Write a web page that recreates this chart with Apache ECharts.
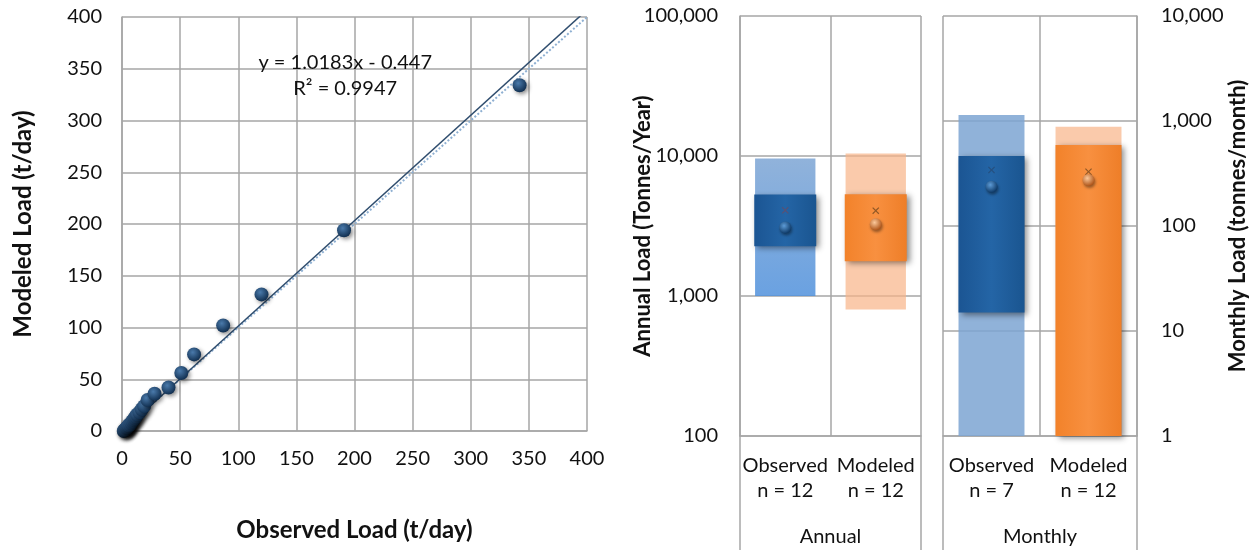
<!DOCTYPE html>
<html><head><meta charset="utf-8">
<script src="https://cdn.jsdelivr.net/npm/echarts@6/dist/echarts.min.js"></script>
<style>html,body{margin:0;padding:0;background:#fff}#c{width:1254px;height:550px}</style>
</head><body><div id="c"></div>
<script>
// ---------- data ----------
const observedDaily = [0.5,1,1.5,2,2.5,3,3.5,4,4.5,5,5.5,6,7,8,9,10,11,12,13,15,17,19,22,28,40,51,62,87,120,191,342];
const modeledDaily  = [-1,-0.5,0,0.5,1,1.5,2,3,3.5,4,5,5.5,6.5,8,9.5,11,12.5,14,16,18,21,24,30,36,42,56,74,102,132,194,334];
const trendCoef = [1.0183, -0.447];
const oneToOne = [[0,0],[400,400]];
const trendText = ['y = 1.0183x - 0.447', 'R² = 0.9947'];
const trendTextPos = [[192, 356], [192, 331]];
const scatterTicks = [0, 400, 50];

const annualCats  = ['Observed\nn = 12', 'Modeled\nn = 12'];
const monthlyCats = ['Observed\nn = 7', 'Modeled\nn = 12'];
const annualRange  = [[1000, 9600], [800, 10400]];
const annualIQR    = [[2270, 5300], [1770, 5320]];
const annualMedian = [3080, 3250];
const annualMean   = [4090, 4070];
const monthlyRange  = [[1, 1140], [1, 880]];
const monthlyIQR    = [[15, 464], [1, 590]];
const monthlyMedian = [237, 274];
const monthlyMean   = [341, 329];

// ---------- helpers ----------
const FONT = 'Lato';
const GRID = '#a6a6a6';
const TXT = '#111';
const fmt = v => Number(v).toLocaleString('en-US');

const lightBlue = new echarts.graphic.LinearGradient(0,0,0,1,[{offset:0,color:'rgba(125,165,212,0.85)'},{offset:1,color:'rgba(80,145,220,0.85)'}]);
const lightBlueM = 'rgba(125,165,210,0.85)';
const darkBlue = new echarts.graphic.LinearGradient(0,0,1,0,[{offset:0,color:'#1b5593'},{offset:0.5,color:'#2465a6'},{offset:1,color:'#1a5590'}]);
const lightOrange = 'rgba(248,180,135,0.7)';
const orange = new echarts.graphic.LinearGradient(0,0,1,0,[{offset:0,color:'#f2822a'},{offset:0.5,color:'#f89040'},{offset:1,color:'#ee7e28'}]);
const blueBall = new echarts.graphic.RadialGradient(0.4,0.35,0.65,[{offset:0,color:'#5d9bd6'},{offset:1,color:'#0e3a68'}]);
const orangeBall = new echarts.graphic.RadialGradient(0.4,0.35,0.65,[{offset:0,color:'#fbc89a'},{offset:1,color:'#b0561a'}]);
const navyBall = new echarts.graphic.RadialGradient(0.4,0.35,0.7,[{offset:0,color:'#4a7aab'},{offset:1,color:'#0d2a4a'}]);
const XMARK = 'path://M0,0L2,2L4,0L4.6,0.6L2.6,2.6L4.6,4.6L4,5.2L2,3.2L0,5.2L-0.6,4.6L1.4,2.6L-0.6,0.6Z';

function rectRender(frac, shadow){
  return function(params, api){
    const c = api.value(0);
    const lo = api.coord([c, api.value(1)]);
    const hi = api.coord([c, api.value(2)]);
    const w = api.size([1, 0])[0] * frac;
    return {
      type: 'rect',
      shape: {x: lo[0] - w/2, y: hi[1], width: w, height: lo[1] - hi[1]},
      style: Object.assign({fill: api.visual('color')}, shadow ? {shadowBlur: 6, shadowOffsetX: 3, shadowOffsetY: 2, shadowColor: 'rgba(0,0,0,0.45)'} : {})
    };
  };
}
function boxItems(ranges, colors){ return ranges.map((r,i)=>({value:[i, r[0], r[1]], itemStyle:{color: colors[i]}})); }
function ptItems(vals, colors){ return vals.map((v,i)=>({value:[i, v], itemStyle:{color: colors[i], opacity:1}})); }

const catLabel = {fontFamily: FONT, fontSize: 20, color: TXT, lineHeight: 25, margin: 17, interval: 0};
const xCat = (grid, data) => ({type:'category', gridIndex:grid, data, position:'bottom', boundaryGap:true,
  axisLine:{show:true, lineStyle:{color:GRID, width:1.5}}, axisTick:{show:false},
  splitLine:{show:true, interval:0, lineStyle:{color:GRID, width:1.5}}, axisLabel:catLabel});
const xGroup = (grid, name) => ({type:'category', gridIndex:grid, data:[name], position:'bottom', boundaryGap:true,
  axisLine:{show:false}, axisTick:{show:true, length:114, interval:0, lineStyle:{color:GRID, width:1.5}},
  splitLine:{show:false}, axisLabel:{fontFamily:FONT, fontSize:20, color:TXT, margin:91}});

const chart = echarts.init(document.getElementById('c'), null, {renderer:'canvas'});
chart.setOption({
  animation: false,
  backgroundColor: '#fff',
  grid: [
    {left:122, top:17, width:465, height:414},
    {left:740, top:16, width:181, height:420},
    {left:943, top:16, width:194, height:420}
  ],
  xAxis: [
    {type:'value', gridIndex:0, min:scatterTicks[0], max:scatterTicks[1], interval:scatterTicks[2],
     name:'Observed Load (t/day)', nameLocation:'middle', nameGap:87, nameMoveOverlap:false,
     nameTextStyle:{fontFamily:FONT, fontSize:24, fontWeight:'bold', color:TXT},
     axisLine:{show:true, lineStyle:{color:GRID, width:1.5}}, axisTick:{show:false},
     splitLine:{show:true, lineStyle:{color:GRID, width:1.5}},
     axisLabel:{fontFamily:FONT, fontSize:20, color:TXT, margin:18}},
    xCat(1, annualCats), xGroup(1, 'Annual'),
    xCat(2, monthlyCats), xGroup(2, 'Monthly')
  ],
  yAxis: [
    {type:'value', gridIndex:0, min:scatterTicks[0], max:scatterTicks[1], interval:scatterTicks[2],
     name:'Modeled Load (t/day)', nameLocation:'middle', nameGap:87, nameMoveOverlap:false,
     nameTextStyle:{fontFamily:FONT, fontSize:24, fontWeight:'bold', color:TXT},
     axisLine:{show:true, lineStyle:{color:GRID, width:1.5}}, axisTick:{show:false},
     splitLine:{show:true, lineStyle:{color:GRID, width:1.5}},
     axisLabel:{fontFamily:FONT, fontSize:20, color:TXT, margin:20}},
    {type:'log', logBase:10, gridIndex:1, min:100, max:100000, position:'left',
     name:'Annual Load (Tonnes/Year)', nameLocation:'middle', nameGap:86, nameMoveOverlap:false,
     nameTextStyle:{fontFamily:FONT, fontSize:22, fontWeight:'bold', color:TXT},
     axisLine:{show:true, lineStyle:{color:GRID, width:1.5}}, axisTick:{show:false},
     splitLine:{show:true, lineStyle:{color:GRID, width:1.5}},
     axisLabel:{fontFamily:FONT, fontSize:20, color:TXT, margin:22, formatter:fmt}},
    {type:'log', logBase:10, gridIndex:2, min:1, max:10000, position:'right',
     name:'Monthly Load (tonnes/month)', nameLocation:'middle', nameGap:90, nameRotate:90, nameMoveOverlap:false,
     nameTextStyle:{fontFamily:FONT, fontSize:22, fontWeight:'bold', color:TXT},
     axisLine:{show:true, lineStyle:{color:GRID, width:1.5}}, axisTick:{show:false},
     splitLine:{show:true, lineStyle:{color:GRID, width:1.5}},
     axisLabel:{fontFamily:FONT, fontSize:20, color:TXT, margin:24, formatter:fmt}}
  ],
  series: [
    {type:'line', xAxisIndex:0, yAxisIndex:0, data:oneToOne, symbol:'none', clip:true, z:3,
     lineStyle:{color:'#8fb0d2', width:2, type:'dotted'}},
    {type:'line', xAxisIndex:0, yAxisIndex:0, symbol:'none', clip:true, z:4,
     data:[[scatterTicks[0], trendCoef[0]*scatterTicks[0]+trendCoef[1]],[scatterTicks[1], trendCoef[0]*scatterTicks[1]+trendCoef[1]]],
     lineStyle:{color:'#2f4d6e', width:1.5}},
    {type:'scatter', xAxisIndex:0, yAxisIndex:0, z:5, symbolSize:14,
     data: observedDaily.map((x,i)=>[x, modeledDaily[i]]),
     itemStyle:{color:navyBall, opacity:1, shadowBlur:4, shadowOffsetX:2, shadowOffsetY:2, shadowColor:'rgba(0,0,0,0.45)'}},
    {type:'scatter', xAxisIndex:0, yAxisIndex:0, z:6, symbolSize:0, silent:true,
     itemStyle:{opacity:1},
     data: trendTextPos.map((p,i)=>({value:p, label:{show:true, position:'inside', formatter:trendText[i], color:TXT, textBorderWidth:0}})),
     label:{fontFamily:FONT, fontSize:20, color:TXT, textBorderWidth:0}},

    // annual
    {type:'custom', xAxisIndex:1, yAxisIndex:1, renderItem:rectRender(0.667,false), z:2,
     data: boxItems(annualRange, [lightBlue, lightOrange])},
    {type:'custom', xAxisIndex:1, yAxisIndex:1, renderItem:rectRender(0.685,true), z:3,
     data: boxItems(annualIQR, [darkBlue, orange])},
    {type:'scatter', xAxisIndex:1, yAxisIndex:1, z:5, symbolSize:7, symbol:XMARK,
     data: ptItems(annualMean, ['rgba(150,60,60,0.45)', 'rgba(110,70,30,0.75)'])},
    {type:'scatter', xAxisIndex:1, yAxisIndex:1, z:6, symbolSize:12,
     data: ptItems(annualMedian, [blueBall, orangeBall]),
     itemStyle:{opacity:1, shadowBlur:3, shadowOffsetX:1, shadowOffsetY:2, shadowColor:'rgba(0,0,0,0.4)'}},

    // monthly
    {type:'custom', xAxisIndex:3, yAxisIndex:2, renderItem:rectRender(0.68,false), z:2,
     data: boxItems(monthlyRange, [lightBlueM, lightOrange])},
    {type:'custom', xAxisIndex:3, yAxisIndex:2, renderItem:rectRender(0.68,true), z:3,
     data: boxItems(monthlyIQR, [darkBlue, orange])},
    {type:'scatter', xAxisIndex:3, yAxisIndex:2, z:5, symbolSize:7, symbol:XMARK,
     data: ptItems(monthlyMean, ['rgba(40,60,90,0.5)', 'rgba(110,70,30,0.75)'])},
    {type:'scatter', xAxisIndex:3, yAxisIndex:2, z:6, symbolSize:12,
     data: ptItems(monthlyMedian, [blueBall, orangeBall]),
     itemStyle:{opacity:1, shadowBlur:3, shadowOffsetX:1, shadowOffsetY:2, shadowColor:'rgba(0,0,0,0.4)'}}
  ]
});
</script>
</body></html>
